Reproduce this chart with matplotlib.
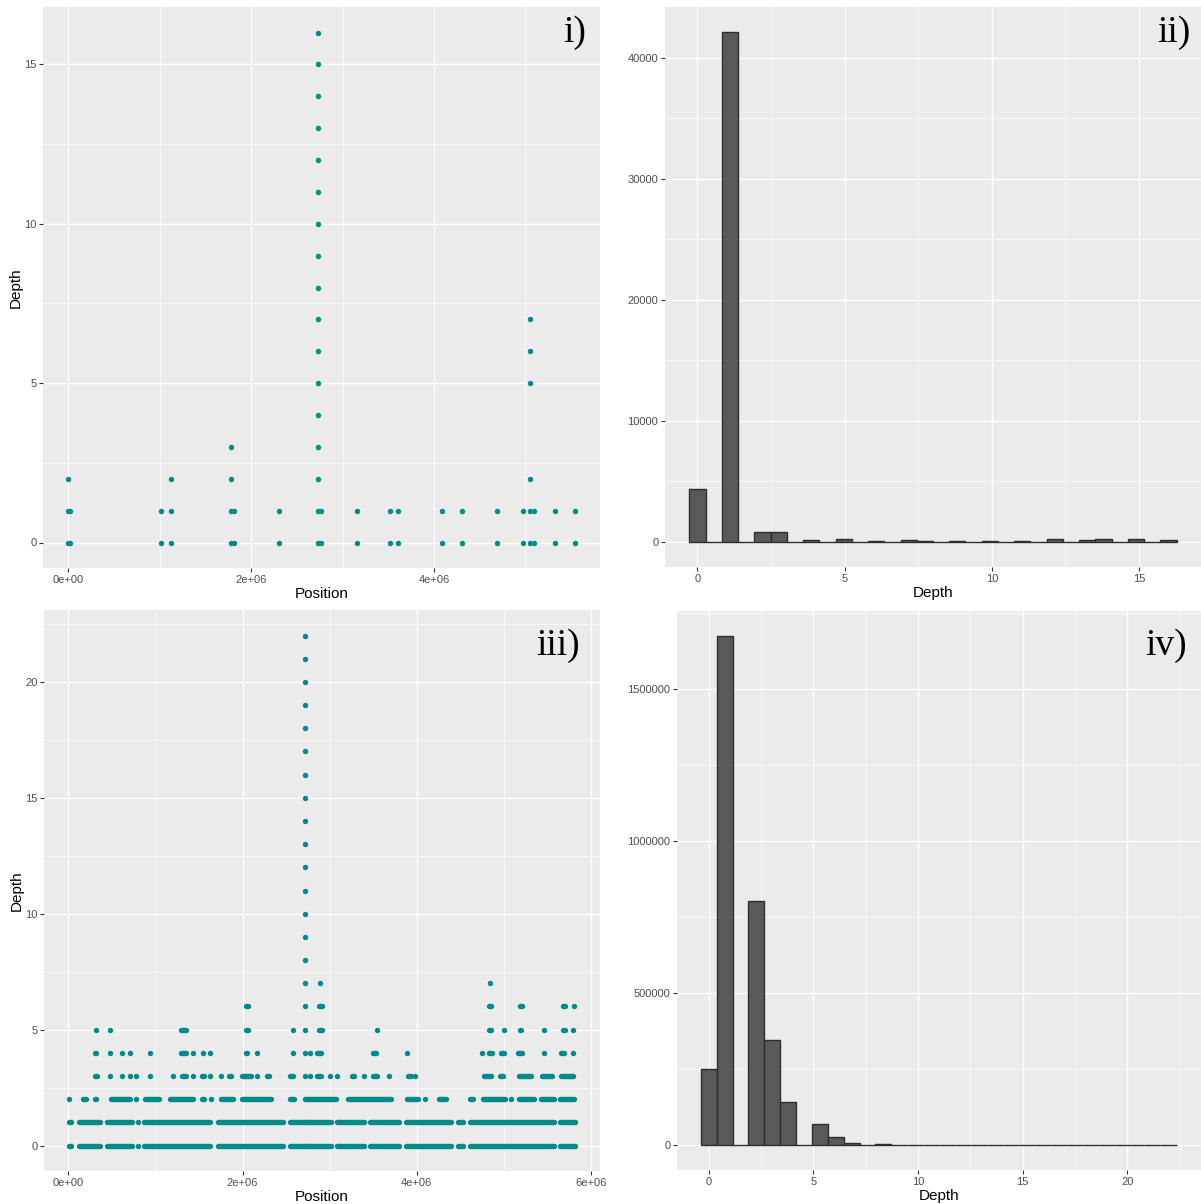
"""
Read depth along the genome (scatter) and the spread of depth values
(histogram) for two samples, drawn as a 2x2 grid in the ggplot grey look.
"""

import numpy as np
import matplotlib
matplotlib.use("Agg")
import matplotlib.pyplot as plt
from matplotlib.collections import LineCollection
from matplotlib.ticker import FuncFormatter


# ── Data ──────────────────────────────────────────────────────────────────────
MB = 1e6  # positions below are in Mb

# i) sites and the depths seen at each site
i_pos = [0.0, 0.015, 1.016, 1.118, 1.779, 1.808, 2.306, 2.729, 2.762, 3.155,
         3.519, 3.601, 4.087, 4.301, 4.685, 4.978, 5.049, 5.099, 5.322, 5.539]
i_depths = [
    [0, 1, 2], [0, 1], [0, 1], [0, 1, 2], [0, 1, 2, 3], [0, 1], [0, 1],
    [0, 1, 2, 3, 4, 5, 6, 7, 8, 9, 10, 11, 12, 13, 14, 15, 16],
    [0, 1], [0, 1], [0, 1], [0, 1], [0, 1], [0, 1], [0, 1], [0, 1],
    [0, 1, 2, 5, 6, 7], [0, 1], [0, 1], [0, 1],
]

# ii) histogram of depth for sample i
ii_depth = [0, 1, 2, 3, 4, 5, 6, 7, 8, 9, 10, 11, 12, 13, 14, 15, 16]
ii_count = [4340, 42100, 830, 750, 110, 190, 10, 110, 60, 50, 50, 80, 170,
            150, 170, 170, 110]

# iii) runs of covered positions [start, end] (Mb) at each depth
iii_d0 = [[0.012, 0.032], [0.118, 0.366], [0.443, 0.731], [0.80, 0.80],
          [0.872, 1.631], [1.719, 2.468], [2.546, 3.013], [3.082, 3.397],
          [3.467, 3.792], [3.876, 4.394], [4.471, 4.536], [4.613, 5.572],
          [5.649, 5.814]]
iii_d1 = [[0.012, 0.032], [0.118, 0.366], [0.443, 0.731], [0.80, 0.80],
          [0.872, 1.631], [1.719, 2.468], [2.546, 3.013], [3.082, 3.397],
          [3.467, 3.792], [3.876, 4.394], [4.471, 4.536], [4.613, 5.572],
          [5.649, 5.814]]
iii_d2 = [[0.01, 0.01], [0.167, 0.201], [0.309, 0.321], [0.489, 0.711],
          [0.775, 0.775], [0.884, 1.038], [1.164, 1.431], [1.539, 1.561],
          [1.64, 1.64], [1.749, 1.891], [1.999, 2.321], [2.549, 2.591],
          [2.733, 3.071], [3.209, 3.701], [3.884, 4.011], [4.10, 4.10],
          [4.259, 4.341], [4.609, 4.641], [4.759, 5.011], [5.08, 5.08],
          [5.169, 5.341], [5.429, 5.571], [5.649, 5.801]]
iii_d3 = [[0.30, 0.325], [0.476, 0.476], [0.621, 0.621], [0.706, 0.706],
          [0.775, 0.775], [0.932, 0.932], [1.20, 1.20], [1.30, 1.355],
          [1.43, 1.43], [1.535, 1.555], [1.63, 1.63], [1.75, 1.75],
          [1.84, 1.865], [1.999, 2.091], [2.167, 2.167], [2.284, 2.301],
          [2.549, 2.581], [2.773, 2.773], [2.859, 2.901], [3.0, 3.0],
          [3.08, 3.08], [3.262, 3.281], [3.40, 3.40], [3.499, 3.541],
          [3.68, 3.68], [3.90, 3.93], [3.975, 3.975], [4.769, 4.851],
          [4.959, 4.991], [5.179, 5.311], [5.439, 5.556], [5.659, 5.791]]
iii_d4 = [[0.30, 0.315], [0.476, 0.476], [0.621, 0.621], [0.706, 0.706],
          [0.932, 0.932], [1.297, 1.35], [1.43, 1.43], [1.54, 1.54],
          [1.63, 1.63], [2.04, 2.055], [2.167, 2.167], [2.58, 2.58],
          [2.773, 2.773], [2.86, 2.90], [3.50, 3.53], [3.89, 3.89],
          [4.75, 4.75], [4.83, 4.86], [4.97, 5.0], [5.16, 5.21],
          [5.46, 5.46], [5.66, 5.69], [5.79, 5.79]]
iii_d5 = [[0.319, 0.319], [0.476, 0.476], [1.297, 1.35], [2.04, 2.06],
          [2.58, 2.58], [2.88, 2.915], [3.54, 3.54], [4.835, 4.855],
          [5.0, 5.0], [5.18, 5.20], [5.46, 5.46], [5.68, 5.70], [5.79, 5.79]]
iii_d6 = [[2.04, 2.06], [2.88, 2.915], [4.835, 4.855], [5.19, 5.21],
          [5.68, 5.70], [5.80, 5.80]]
iii_d7 = [[2.89, 2.89], [4.84, 4.84]]
iii_rows = [iii_d0, iii_d1, iii_d2, iii_d3, iii_d4, iii_d5, iii_d6, iii_d7]

# iii) the tall column at one site
iii_peak_pos = 2.72
iii_peak_depths = [0, 1, 2, 3, 4, 5, 6, 7, 8, 9, 10, 11, 12, 13, 14, 15, 16,
                   17, 18, 19, 20, 21, 22]

# iv) histogram of depth for sample iii
iv_depth = [0, 1, 2, 3, 4, 5, 6, 7, 8, 9, 10, 11, 12, 13, 14, 15, 16, 17, 18,
            19, 20, 21, 22]
iv_count = [249000, 1674000, 802000, 343000, 141000, 68000, 26000, 4500, 300,
            200, 200, 150, 150, 150, 150, 150, 150, 150, 150, 150, 150, 150, 150]


# ── Style ─────────────────────────────────────────────────────────────────────
W, H, DPI = 1201, 1204, 100
PANEL_BG = "#EBEBEB"
POINT = "#008B8B"
BAR_FILL = "#595959"
BAR_EDGE = "#2E2E2E"
DOT_PT = 3.9  # marker diameter, points

plt.rcParams["font.family"] = ["Liberation Sans", "DejaVu Sans"]


def px_axes(fig, x0, y0, x1, y1):
    """Axes from pixel box (top-left origin)."""
    return fig.add_axes([x0 / W, 1 - y1 / H, (x1 - x0) / W, (y1 - y0) / H])


def expand(lo, hi, f=0.05):
    d = (hi - lo) * f
    return lo - d, hi + d


def gg_grey(ax, xmaj, xmin, ymaj, ymin, xlim, ylim):
    ax.set_facecolor(PANEL_BG)
    for s in ax.spines.values():
        s.set_visible(False)
    ax.set_xticks(xmaj)
    ax.set_xticks(xmin, minor=True)
    ax.set_yticks(ymaj)
    ax.set_yticks(ymin, minor=True)
    ax.grid(which="major", color="white", linewidth=1.0)
    ax.grid(which="minor", color="white", linewidth=0.5)
    ax.set_axisbelow(True)
    ax.tick_params(which="major", length=2.8, width=0.8, color="#333333",
                   labelsize=8, labelcolor="#4D4D4D", pad=2)
    ax.tick_params(which="minor", length=0)
    ax.set_xlim(*xlim)
    ax.set_ylim(*ylim)


def gg_histogram(ax, values, counts, n=30):
    """ggplot-style bins: n bins, centred on the min, closed on the right."""
    lo, hi = min(values), max(values)
    w = (hi - lo) / (n - 1)
    edges = np.linspace(lo - w / 2, hi + w / 2, n + 1)
    idx = np.searchsorted(edges, np.asarray(values, float) - 1e-9) - 1
    heights = np.bincount(idx, weights=counts, minlength=n)
    ax.bar(edges[:-1], heights, width=w, align="edge", color=BAR_FILL,
           edgecolor=BAR_EDGE, linewidth=1.0, zorder=3)
    return edges, heights


sci = FuncFormatter(lambda v, _: f"{v:.0e}")
plain = FuncFormatter(lambda v, _: f"{int(round(v))}")

fig = plt.figure(figsize=(W / DPI, H / DPI), dpi=DPI)

# ── i) scatter ────────────────────────────────────────────────────────────────
ax1 = px_axes(fig, 43, 7, 600, 568)
xs = [p * MB for p, ds in zip(i_pos, i_depths) for _ in ds]
ys = [d for ds in i_depths for d in ds]
ax1.scatter(xs, ys, s=DOT_PT ** 2, color=POINT, linewidths=0, zorder=3)
gg_grey(ax1, [0, 2e6, 4e6], [1e6, 3e6, 5e6], [0, 5, 10, 15], [2.5, 7.5, 12.5],
        expand(min(xs), max(xs)), expand(0, max(ys)))
ax1.xaxis.set_major_formatter(sci)
ax1.set_xlabel("Position", fontsize=11, labelpad=2)
ax1.set_ylabel("Depth", fontsize=11, labelpad=1)

# ── ii) histogram ─────────────────────────────────────────────────────────────
ax2 = px_axes(fig, 665, 7, 1201, 567)
edges2, h2 = gg_histogram(ax2, ii_depth, ii_count)
gg_grey(ax2, [0, 5, 10, 15], [2.5, 7.5, 12.5],
        [0, 10000, 20000, 30000, 40000], [5000, 15000, 25000, 35000],
        expand(edges2[0], edges2[-1]), expand(0, h2.max()))
ax2.yaxis.set_major_formatter(plain)
ax2.set_xlabel("Depth", fontsize=11, labelpad=2)

# ── iii) scatter ──────────────────────────────────────────────────────────────
ax3 = px_axes(fig, 44, 610, 600, 1171)
segs, dots_x, dots_y = [], [], []
for depth, runs in enumerate(iii_rows):
    for a, b in runs:
        if b - a < 0.005:
            dots_x.append((a + b) / 2 * MB)
            dots_y.append(depth)
        else:
            segs.append([(a * MB, depth), (b * MB, depth)])
dots_x += [iii_peak_pos * MB] * len(iii_peak_depths)
dots_y += iii_peak_depths
ax3.add_collection(LineCollection(segs, colors=POINT, linewidths=DOT_PT,
                                  capstyle="round", zorder=3))
ax3.scatter(dots_x, dots_y, s=DOT_PT ** 2, color=POINT, linewidths=0, zorder=3)
all_x = [p * MB for runs in iii_rows for r in runs for p in r] + dots_x
gg_grey(ax3, [0, 2e6, 4e6, 6e6], [1e6, 3e6, 5e6], [0, 5, 10, 15, 20],
        [2.5, 7.5, 12.5, 17.5, 22.5],
        expand(min(all_x), max(all_x)), expand(0, max(iii_peak_depths)))
ax3.xaxis.set_major_formatter(sci)
ax3.set_xlabel("Position", fontsize=11, labelpad=2)
ax3.set_ylabel("Depth", fontsize=11, labelpad=1)

# ── iv) histogram ─────────────────────────────────────────────────────────────
ax4 = px_axes(fig, 677, 611, 1201, 1170)
edges4, h4 = gg_histogram(ax4, iv_depth, iv_count)
gg_grey(ax4, [0, 5, 10, 15, 20], [2.5, 7.5, 12.5, 17.5, 22.5],
        [0, 500000, 1000000, 1500000], [250000, 750000, 1250000, 1750000],
        expand(edges4[0], edges4[-1]), expand(0, h4.max()))
ax4.yaxis.set_major_formatter(plain)
ax4.set_xlabel("Depth", fontsize=11, labelpad=2)

# ── panel tags ────────────────────────────────────────────────────────────────
for tag, x, y in [("i)", 586, 33), ("ii)", 1191, 33),
                  ("iii)", 580, 646), ("iv)", 1187, 646)]:
    fig.text(x / W, 1 - y / H, tag, ha="right", va="center", fontsize=27,
             family="Liberation Serif", color="black")

fig.savefig("out.png", dpi=DPI)
